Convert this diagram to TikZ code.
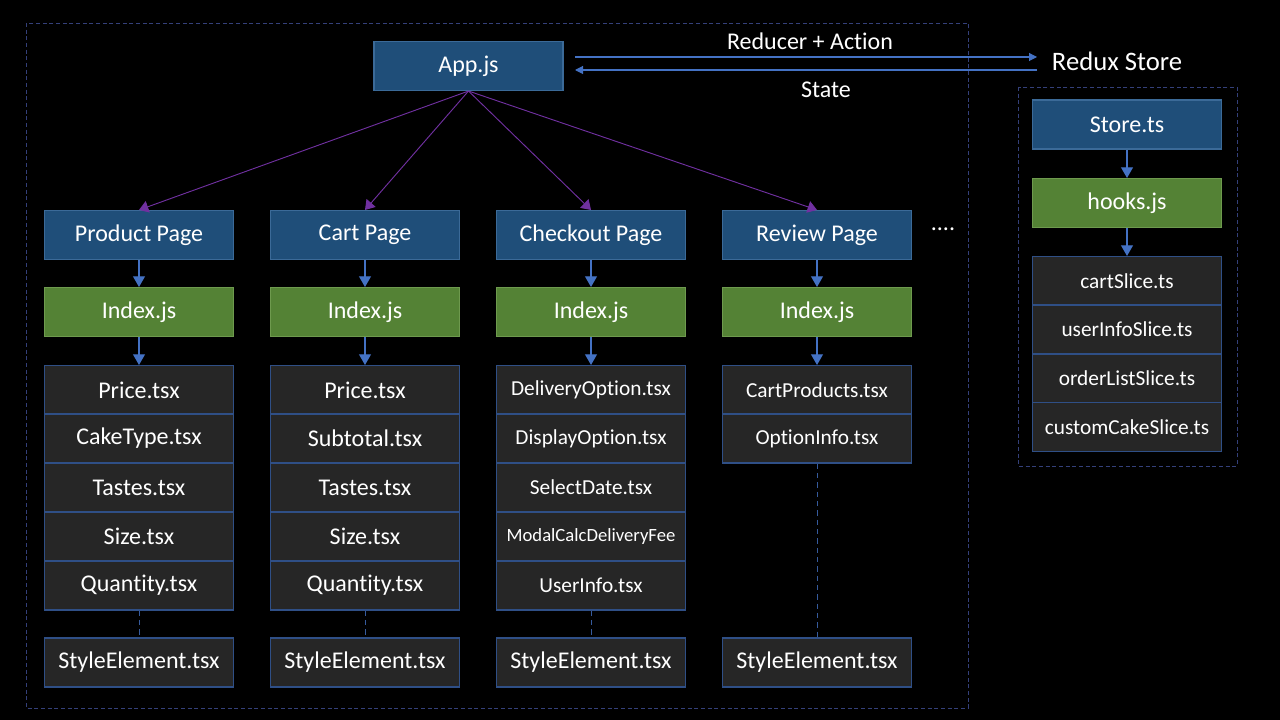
\documentclass[tikz,border=0pt]{standalone}
\usepackage{fontspec}
\setmainfont{Carlito}[Ligatures=NoCommon]
\usetikzlibrary{arrows.meta}
\definecolor{bluebox}{HTML}{1F4E79}
\definecolor{blueedge}{HTML}{3B6A98}
\definecolor{greenbox}{HTML}{548235}
\definecolor{greenedge}{HTML}{6E9A4E}
\definecolor{listbox}{HTML}{262626}
\definecolor{listedge}{HTML}{2F4F86}
\definecolor{frame}{HTML}{34407A}
\definecolor{arrowblue}{HTML}{4472C4}
\definecolor{purp}{HTML}{7030A0}
\begin{document}
\begin{tikzpicture}[x=0.75pt,y=-0.75pt,
  box/.style={minimum width=141.75pt,minimum height=36.75pt,inner sep=0pt,text=white,font=\fontsize{18}{21}\selectfont},
  pagebox/.style={box,fill=bluebox,draw=blueedge,line width=0.8pt},
  idxbox/.style={box,fill=greenbox,draw=greenedge,line width=0.8pt},
  itembox/.style={box,fill=listbox,draw=listedge,line width=0.8pt},
  smallitem/.style={itembox,font=\fontsize{16}{19}\selectfont},
  tinyitem/.style={itembox,font=\fontsize{14}{17}\selectfont},
  downarrow/.style={draw=arrowblue,line width=0.8pt,-{Triangle[width=9pt,length=8pt]}},
  fanarrow/.style={draw=purp,line width=0.7pt,-{Triangle[width=9pt,length=7pt]}},
  dashlink/.style={draw=arrowblue!80!black,line width=0.7pt,dash pattern=on 4pt off 3pt},
  framebox/.style={draw=frame,line width=0.7pt,dash pattern=on 3pt off 2pt},
  label/.style={text=white,font=\fontsize{18}{21}\selectfont},
]
\useasboundingbox[fill=black] (0,0) rectangle (1280,720);
% frames
\draw[framebox] (26,23) rectangle (968,708);
\draw[framebox] (1018,87) rectangle (1237,466);

% App
\node[pagebox] (app) at (468.5,66) {App.js};
\node[label,font=\fontsize{20}{24}\selectfont] (redux) at (1117,61) {Redux Store};
\coordinate (rsa) at (1037,57);
\coordinate (rsb) at (1037,70);
\coordinate (apa) at (575,57);
\coordinate (apb) at (575,70);
\draw[line width=0.8pt,draw=arrowblue,-{Triangle[width=6pt,length=6pt]}] (apa) -- (rsa);
\draw[line width=0.8pt,draw=arrowblue,-{Triangle[width=6pt,length=6pt]}] (rsb) -- (apb);
\node[label] (lra) at (810,41) {Reducer + Action};
\node[label] (lst) at (826,90) {State};

% Column 1
\node[pagebox] (p1) at (139,235) {Product Page};
\node[idxbox] (i1) at (139,312) {Index.js};
\node[itembox] (a1) at (139,390) {Price.tsx};
\node[itembox] (a2) at (139,438.5) {CakeType.tsx};
\node[itembox] (a3) at (139,487.5) {Tastes.tsx};
\node[itembox] (a4) at (139,536.5) {Size.tsx};
\node[itembox] (a5) at (139,585.5) {Quantity.tsx};
\node[itembox] (s1) at (139,662.5) {StyleElement.tsx};
% Column 2
\node[pagebox] (p2) at (365,235) {Cart Page};
\node[idxbox] (i2) at (365,312) {Index.js};
\node[itembox] (b1) at (365,390) {Price.tsx};
\node[itembox] (b2) at (365,438.5) {Subtotal.tsx};
\node[itembox] (b3) at (365,487.5) {Tastes.tsx};
\node[itembox] (b4) at (365,536.5) {Size.tsx};
\node[itembox] (b5) at (365,585.5) {Quantity.tsx};
\node[itembox] (s2) at (365,662.5) {StyleElement.tsx};
% Column 3
\node[pagebox] (p3) at (591,235) {Checkout Page};
\node[idxbox] (i3) at (591,312) {Index.js};
\node[smallitem] (c1) at (591,390) {DeliveryOption.tsx};
\node[smallitem] (c2) at (591,438.5) {DisplayOption.tsx};
\node[smallitem] (c3) at (591,487.5) {SelectDate.tsx};
\node[tinyitem] (c4) at (591,536.5) {ModalCalcDeliveryFee};
\node[smallitem] (c5) at (591,585.5) {UserInfo.tsx};
\node[itembox] (s3) at (591,662.5) {StyleElement.tsx};
% Column 4
\node[pagebox] (p4) at (817,235) {Review Page};
\node[idxbox] (i4) at (817,312) {Index.js};
\node[smallitem] (d1) at (817,390) {CartProducts.tsx};
\node[smallitem] (d2) at (817,438.5) {OptionInfo.tsx};
\node[itembox] (s4) at (817,662.5) {StyleElement.tsx};
\node[label] (dots) at (943,229) {....};

% Store column
\node[pagebox] (st) at (1127,124.5) {Store.ts};
\node[idxbox] (hk) at (1127,203) {hooks.js};
\node[smallitem] (e1) at (1127,281) {cartSlice.ts};
\node[smallitem] (e2) at (1127,329.5) {userInfoSlice.ts};
\node[smallitem] (e3) at (1127,378.5) {orderListSlice.ts};
\node[smallitem] (e4) at (1127,427) {customCakeSlice.ts};

% arrows
\foreach \p/\i/\l in {p1/i1/a1,p2/i2/b1,p3/i3/c1,p4/i4/d1,st/hk/e1}{
  \draw[downarrow] (\p.south) -- (\i.north);
  \draw[downarrow] (\i.south) -- (\l.north);
}
\foreach \p in {p1,p2,p3,p4}{
  \draw[fanarrow] (app.south) -- (\p.north);
}
\draw[dashlink] (a5.south) -- (s1.north);
\draw[dashlink] (b5.south) -- (s2.north);
\draw[dashlink] (c5.south) -- (s3.north);
\draw[dashlink] (d2.south) -- (s4.north);
\end{tikzpicture}
\end{document}
